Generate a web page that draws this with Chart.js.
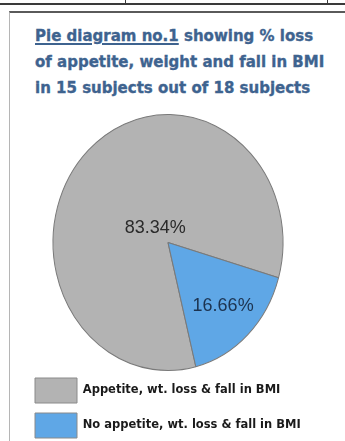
<!DOCTYPE html>
<html>
<head>
<meta charset="utf-8">
<script src="https://cdn.jsdelivr.net/npm/chart.js@4.4.0/dist/chart.umd.min.js"></script>
<style>
    body { margin: 0; width: 345px; height: 441px; background: #fff; position: relative; overflow: hidden; font-family: "DejaVu Sans", sans-serif; }
    .topline { position: absolute; left: 0; top: 3px; width: 345px; height: 2px; background: #3a3a3a; }
    .cell { position: absolute; top: 0; width: 1px; height: 4px; background: #3a3a3a; }
    .frame { position: absolute; left: 9px; top: 11px; width: 340px; height: 440px; border-top: 2px solid #5a5a5a; border-left: 1px solid #b5b5b5; }
    .title { position: absolute; left: 35px; top: 23px; font-weight: bold; font-size: 15px; line-height: 26px; color: #3e638f; white-space: nowrap; -webkit-text-stroke: 0.35px #3e638f; }
    .title u { text-decoration-thickness: 1.5px; text-underline-offset: 2px; }
    #wrap { position: absolute; left: 10px; top: 100px; width: 335px; height: 348px; }
</style>
</head>
<body>
<div class="topline"></div>
<div class="cell" style="left:125px"></div>
<div class="cell" style="left:327px"></div>
<div class="frame"></div>
<div class="title"><u>Pie diagram no.1</u> showing % loss<br>of appetite, weight and fall in BMI<br>in 15 subjects out of 18 subjects</div>
<div id="wrap"><canvas id="pieChart"></canvas></div>
<script>
// data
const categories = ["Appetite, wt. loss & fall in BMI", "No appetite, wt. loss & fall in BMI"]
const values = [83.34, 16.66]
const valueLabels = ["83.34%", "16.66%"]
const sliceColors = ["#b3b3b3", "#5fa7e6"]

// squash the pie a bit taller than wide, like the original
const stretchY = 128 / 115
const labelDist = [0.16, 0.69]
const labelColors = ["#2a2a2a", "#1c3350"]

const ellipsePlugin = {
    id: "ellipse",
    beforeDatasetsDraw(chart) {
        const arc = chart.getDatasetMeta(0).data[0]
        const ctx = chart.ctx
        ctx.save()
        ctx.translate(arc.x, arc.y)
        ctx.scale(1, stretchY)
        ctx.translate(-arc.x, -arc.y)
    },
    afterDatasetsDraw(chart) {
        const ctx = chart.ctx
        ctx.restore()
        // percentage labels
        chart.getDatasetMeta(0).data.forEach((arc, i) => {
            const p = arc.getProps(["x", "y", "startAngle", "endAngle", "outerRadius"], true)
            const mid = (p.startAngle + p.endAngle) / 2
            const r = p.outerRadius * labelDist[i]
            const x = p.x + Math.cos(mid) * r
            const y = p.y + Math.sin(mid) * r * stretchY
            ctx.save()
            ctx.font = "18px 'Liberation Sans', Arial, sans-serif"
            ctx.fillStyle = labelColors[i]
            ctx.textAlign = "center"
            ctx.textBaseline = "middle"
            ctx.fillText(valueLabels[i], x, y)
            ctx.restore()
        })
    },
}

const pieCtx = document.getElementById("pieChart")
new Chart(pieCtx, {
    type: "pie",
    data: {
        labels: categories,
        datasets: [
            {
                data: values,
                backgroundColor: sliceColors,
                borderColor: "#7a7a7a",
                borderWidth: 1,
            },
        ],
    },
    options: {
        responsive: true,
        maintainAspectRatio: false,
        animation: false,
        rotation: 166,
        layout: { padding: { top: 27, bottom: 0, left: 15, right: 34 } },
        plugins: {
            tooltip: { enabled: false },
            legend: {
                position: "bottom",
                align: "start",
                // empty title just to keep a gap between pie and legend
                title: { display: true, text: "", padding: 0, font: { size: 10, lineHeight: 1 } },
                labels: {
                    boxWidth: 42,
                    boxHeight: 25,
                    padding: 10,
                    color: "#1a1a1a",
                    font: { size: 11.5, weight: "bold", family: "'DejaVu Sans', sans-serif" },
                    generateLabels(chart) {
                        return categories.map((c, i) => ({
                            text: c,
                            fillStyle: sliceColors[i],
                            strokeStyle: "#8a8a8a",
                            fontColor: "#1a1a1a",
                            lineWidth: 1,
                            index: i,
                        }))
                    },
                },
            },
        },
    },
    plugins: [ellipsePlugin],
})
</script>
</body>
</html>
